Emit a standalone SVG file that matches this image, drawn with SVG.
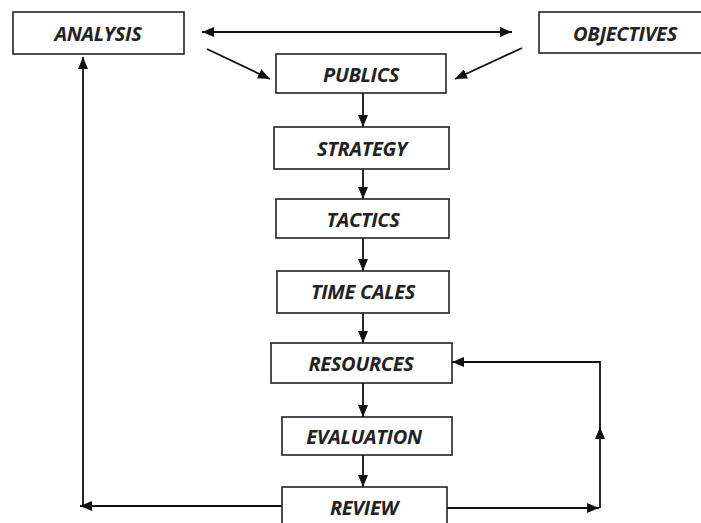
<svg xmlns="http://www.w3.org/2000/svg" width="701" height="523" viewBox="0 0 701 523">
<defs>
<style>
.box{fill:#fff;stroke:#222;stroke-width:1.6}
.lbl{font-family:"Open Sans","Liberation Sans",sans-serif;font-weight:bold;font-style:italic;font-size:20px;letter-spacing:-0.3px;fill:#222;text-anchor:middle}
.con{fill:none;stroke:#111;stroke-width:1.8}
</style>
<marker id="ah" viewBox="0 0 12 10" refX="12" refY="5" markerWidth="12" markerHeight="10" markerUnits="userSpaceOnUse" orient="auto-start-reverse">
<path d="M0,0 L12,5 L0,10 Z" fill="#111"/>
</marker>
</defs>
<rect width="701" height="523" fill="#fff"/>
<g id="connectors">
<line class="con" x1="202" y1="32" x2="512" y2="32" marker-start="url(#ah)" marker-end="url(#ah)"/>
<line class="con" x1="207" y1="49" x2="270" y2="79" marker-end="url(#ah)"/>
<line class="con" x1="522" y1="48" x2="455" y2="79" marker-end="url(#ah)"/>
<line class="con" x1="363" y1="93" x2="363" y2="127" marker-end="url(#ah)"/>
<line class="con" x1="363" y1="169" x2="363" y2="199" marker-end="url(#ah)"/>
<line class="con" x1="363" y1="238" x2="363" y2="271" marker-end="url(#ah)"/>
<line class="con" x1="363" y1="313" x2="363" y2="343" marker-end="url(#ah)"/>
<line class="con" x1="363" y1="383" x2="363" y2="417" marker-end="url(#ah)"/>
<line class="con" x1="363" y1="455" x2="363" y2="487" marker-end="url(#ah)"/>
<line class="con" x1="282" y1="506" x2="80" y2="506" marker-end="url(#ah)"/>
<line class="con" x1="83" y1="506" x2="83" y2="57" marker-end="url(#ah)"/>
<line class="con" x1="447" y1="508" x2="599" y2="508" marker-end="url(#ah)"/>
<line class="con" x1="600" y1="508" x2="600" y2="427" marker-end="url(#ah)"/>
<polyline class="con" points="600,430 600,362 452,362" marker-end="url(#ah)"/>
</g>
<g id="analysis"><rect class="box" x="13" y="12" width="171" height="42"/><text class="lbl" x="98" y="41">ANALYSIS</text></g>
<g id="objectives"><rect class="box" x="539" y="12" width="170" height="41"/><text class="lbl" x="625" y="41">OBJECTIVES</text></g>
<g id="publics"><rect class="box" x="276" y="54" width="170" height="39"/><text class="lbl" x="361" y="82">PUBLICS</text></g>
<g id="strategy"><rect class="box" x="274" y="127" width="175" height="42"/><text class="lbl" x="362" y="156">STRATEGY</text></g>
<g id="tactics"><rect class="box" x="276" y="199" width="173" height="39"/><text class="lbl" x="363" y="227">TACTICS</text></g>
<g id="timecales"><rect class="box" x="277" y="271" width="172" height="42"/><text class="lbl" x="363" y="299">TIME CALES</text></g>
<g id="resources"><rect class="box" x="271" y="343" width="181" height="40"/><text class="lbl" x="361" y="371">RESOURCES</text></g>
<g id="evaluation"><rect class="box" x="282" y="417" width="170" height="38"/><text class="lbl" x="364" y="444">EVALUATION</text></g>
<g id="review"><rect class="box" x="282" y="487" width="165" height="45"/><text class="lbl" x="364" y="515">REVIEW</text></g>
</svg>
